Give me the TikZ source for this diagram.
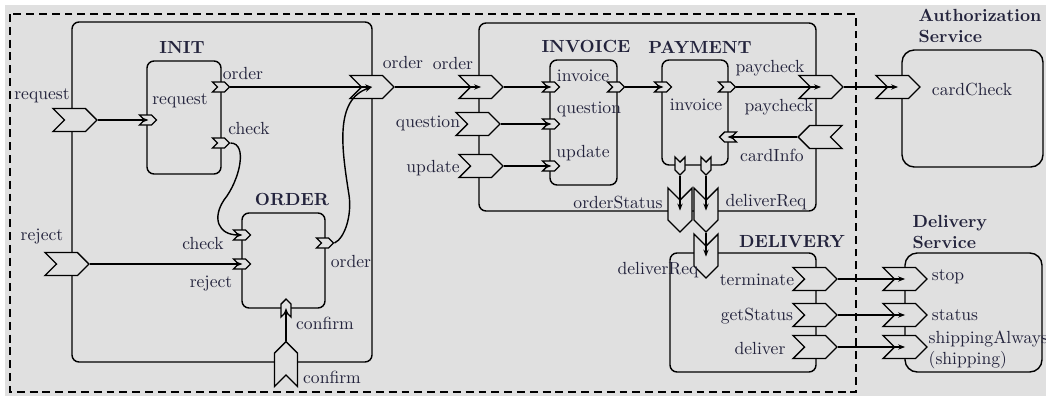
\documentclass[tikz,border=0pt]{standalone}
\usetikzlibrary{shapes.symbols,arrows.meta}
\definecolor{fondo}{RGB}{224,224,224}
\definecolor{texto}{RGB}{35,35,60}
\begin{document}
\begin{tikzpicture}[x=0.02cm, y=-0.02cm, line width=0.8pt, >={Stealth[length=4pt,width=3pt]}]
\tikzstyle{gate}=[draw, fill=fondo, shape=signal, inner sep=0pt, signal pointer angle=90, signal to=east, signal from=west]
\tikzstyle{gE}=[gate, minimum width=0.88cm, minimum height=0.46cm]
\tikzstyle{gW}=[gate, rotate=180, minimum width=0.88cm, minimum height=0.46cm]
\tikzstyle{gS}=[gate, rotate=-90, minimum width=0.88cm, minimum height=0.48cm]
\tikzstyle{gN}=[gate, rotate=90, minimum width=0.9cm, minimum height=0.46cm]
\tikzstyle{pE}=[gate, minimum width=0.34cm, minimum height=0.2cm]
\tikzstyle{pW}=[gate, rotate=180, minimum width=0.34cm, minimum height=0.2cm]
\tikzstyle{pS}=[gate, rotate=-90, minimum width=0.36cm, minimum height=0.2cm]
\tikzstyle{pN}=[gate, rotate=90, minimum width=0.36cm, minimum height=0.2cm]
\tikzstyle{aP}=[->, shorten >=-2.85pt]
\tikzstyle{aG}=[->, shorten >=-6.6pt]
\tikzstyle{lbl}=[text=texto, inner sep=0pt]
\tikzstyle{ttl}=[lbl, font=\bfseries]
\tikzstyle{caja}=[draw, rounded corners=4pt]

\useasboundingbox (0,0) rectangle (1046,396);
\fill[fondo] (5,5) rectangle (1046,396);
\draw[dash pattern=on 4.5pt off 2.8pt, line width=1pt] (10,14) rectangle (856,392);

% cajas
\draw[caja] (72,22) rectangle (372,362);
\draw[caja] (147,61) rectangle (221,174);
\draw[caja] (242,213) rectangle (325,308);
\draw[caja] (479,23) rectangle (816,211);
\draw[caja] (550,60) rectangle (617,185);
\draw[caja] (662,60) rectangle (728,165);
\draw[caja] (670,253) rectangle (816,372);
\draw[caja, rounded corners=7pt] (902,50) rectangle (1043,167);
\draw[caja, rounded corners=7pt] (905,253) rectangle (1042,372);

\node[ttl] (tInit) at (182,47) {INIT};
\node[ttl] (tOrder) at (292,199) {ORDER};
\node[ttl] (tInvoice) at (586,46) {INVOICE};
\node[ttl] (tPayment) at (700,47) {PAYMENT};
\node[ttl] (tDelivery) at (792,242) {DELIVERY};
\node[ttl, align=left, anchor=west] (tAuth) at (918,26) {Authorization\\Service};
\node[ttl, align=left, anchor=west] (tDelSrv) at (912,232) {Delivery\\Service};

% puertos grandes
\node[gE] (inReq) at (75,120) {};
\node[gE] (inRej) at (67,264) {};
\node[gE] (outOrd) at (372,87) {};
\node[gN] (inConf) at (286,364) {};
\node[gE] (mOrd) at (481,87) {};
\node[gE] (mQue) at (478,124) {};
\node[gE] (mUpd) at (481,166) {};
\node[gE] (mPay) at (821,87) {};
\node[gW] (mCard) at (820,137) {};
\node[gS] (mStat) at (680,210) {};
\node[gS] (mDel) at (706,210) {};
\node[gS] (dReq) at (706,256) {};
\node[gE] (dTerm) at (815,279) {};
\node[gE] (dGet) at (815,315) {};
\node[gE] (dDel) at (815,347) {};
\node[gE] (aCheck) at (898,87) {};
\node[gE] (sStop) at (905,279) {};
\node[gE] (sStat) at (905,315) {};
\node[gE] (sShip) at (905,347) {};

% puertos de los componentes
\node[pE] (iReq) at (148,120) {};
\node[pE] (iOrd) at (221,87) {};
\node[pE] (iChk) at (221,143) {};
\node[pE] (oChk) at (242,235) {};
\node[pE] (oRej) at (242,264) {};
\node[pE] (oOrd) at (325,243) {};
\node[pN] (oConf) at (286,308) {};
\node[pE] (vInv) at (551,87) {};
\node[pE] (vQue) at (551,124) {};
\node[pE] (vUpd) at (551,166) {};
\node[pE] (vOut) at (616,87) {};
\node[pE] (pInv) at (663,87) {};
\node[pE] (pPay) at (727,87) {};
\node[pW] (pCard) at (728,137) {};
\node[pS] (pStat) at (680,166) {};
\node[pS] (pDel) at (706,166) {};

% etiquetas
\node[lbl] (lReq) at (42,96) {request};
\node[lbl] (lRej) at (42,237) {reject};
\node[lbl] (lIReq) at (180,101) {request};
\node[lbl] (lIOrd) at (243,73) {order};
\node[lbl] (lIChk) at (249,128) {check};
\node[lbl] (lOChk) at (203,243) {check};
\node[lbl] (lORej) at (211,284) {reject};
\node[lbl] (lOOrd) at (351,261) {order};
\node[lbl] (lOConf) at (325,323) {confirm};
\node[lbl] (lConf) at (332,377) {confirm};
\node[lbl] (lOut) at (403,62) {order};
\node[lbl] (lMOrd) at (453,63) {order};
\node[lbl] (lMQue) at (428,123) {question};
\node[lbl] (lMUpd) at (433,168) {update};
\node[lbl] (lVInv) at (583,76) {invoice};
\node[lbl] (lVQue) at (589,109) {question};
\node[lbl] (lVUpd) at (583,153) {update};
\node[lbl] (lPInv) at (696,105) {invoice};
\node[lbl] (lPPay) at (770,68) {paycheck};
\node[lbl] (lPCard) at (772,155) {cardInfo};
\node[lbl] (lMPay) at (779,107) {paycheck};
\node[lbl] (lMStat) at (618,202) {orderStatus};
\node[lbl] (lMDel) at (766,202) {deliverReq};
\node[lbl] (lDReq) at (658,270) {deliverReq};
\node[lbl] (lDTerm) at (757,280) {terminate};
\node[lbl] (lDGet) at (757,316) {getStatus};
\node[lbl] (lDDel) at (760,348) {deliver};
\node[lbl] (lACheck) at (972,89) {cardCheck};
\node[lbl] (lSStop) at (948,277) {stop};
\node[lbl] (lSStat) at (955,315) {status};
\node[lbl, align=left, anchor=west] (lSShip) at (928,350) {shippingAlways\\(shipping)};

% conexiones (west = muesca, east = punta)
\draw[aP] (inReq.east) -- (iReq.west);
\draw[aG] (iOrd.east) -- (outOrd.west);
\draw[aP] (inRej.east) -- (oRej.west);
\draw[aP] (inConf.east) -- (oConf.west);
\draw[->] (iChk.east) .. controls (248,143) and (240,180) .. (224,200) .. controls (212,218) and (218,235) .. ([xshift=0.1cm]oChk.west);
\draw[->] (oOrd.east) .. controls (345,238) and (352,215) .. (349,195) .. controls (342,150) and (334,100) .. ([xshift=0.23cm]outOrd.west);
\draw[aG] (outOrd.east) -- (mOrd.west);
\draw[aP] (mOrd.east) -- (vInv.west);
\draw[aP] (mQue.east) -- (vQue.west);
\draw[aP] (mUpd.east) -- (vUpd.west);
\draw[aP] (vOut.east) -- (pInv.west);
\draw[aG] (pPay.east) -- (mPay.west);
\draw[aG] (mPay.east) -- (aCheck.west);
\draw[aP] (mCard.east) -- (pCard.west);
\draw[aG] (pStat.east) -- (mStat.west);
\draw[aG] (pDel.east) -- (mDel.west);
\draw[aG] (mDel.east) -- (dReq.west);
\draw[aG] (dTerm.east) -- (sStop.west);
\draw[aG] (dGet.east) -- (sStat.west);
\draw[aG] (dDel.east) -- (sShip.west);
\end{tikzpicture}
\end{document}
